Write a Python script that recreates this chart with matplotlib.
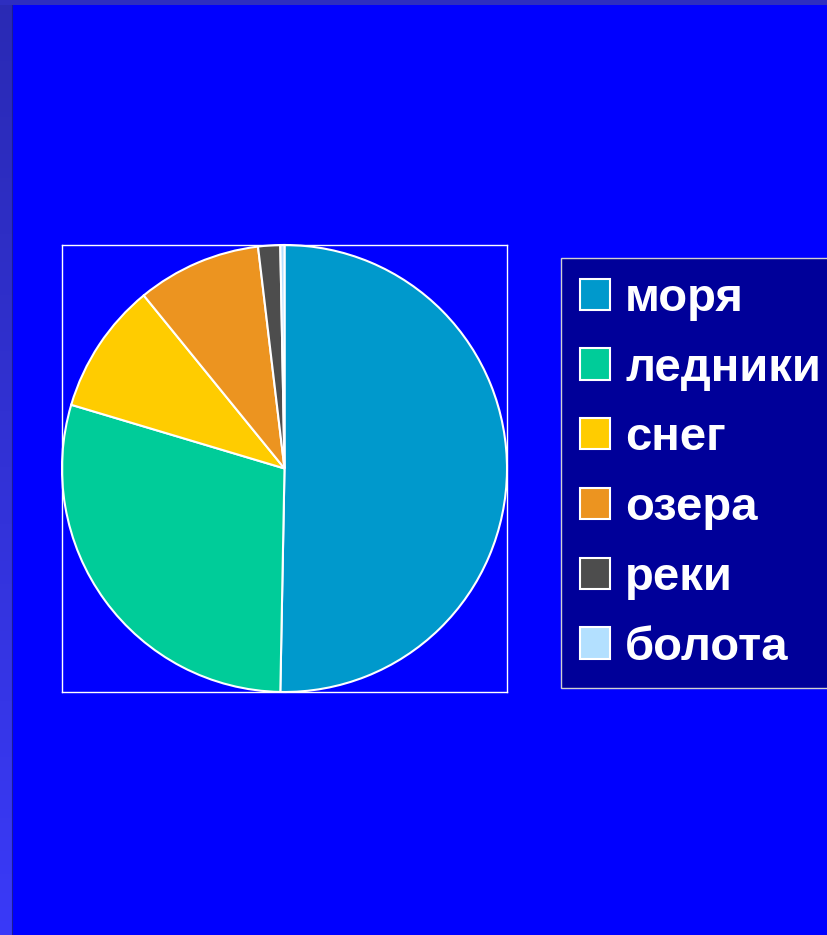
import matplotlib
matplotlib.use('Agg')
import matplotlib.pyplot as plt
import numpy as np

labels = ['моря', 'ледники', 'снег', 'озера', 'реки', 'болота']
values = [50.3, 29.3, 9.5, 9.0, 1.6, 0.3]
colors = ['#0099cc', '#00cc99', '#ffcc00', '#ec9420', '#4d4d4d', '#b3e0ff']

W, H = 828, 935
fig = plt.figure(figsize=(W / 100, H / 100), dpi=100, facecolor='#0000ff')

# slide frame: left strip with a vertical gradient, thin strip on top
strip = fig.add_axes([0, 0, 13 / W, 1])
grad = np.linspace(0, 1, 200).reshape(-1, 1)
top_c = np.array([0x2a, 0x2a, 0xb4]) / 255
bot_c = np.array([0x3a, 0x3a, 0xf8]) / 255
img = top_c[None, None, :] * (1 - grad[:, :, None]) + bot_c[None, None, :] * grad[:, :, None]
strip.imshow(img, aspect='auto', extent=[0, 1, 0, 1], origin='upper')
strip.axvline(0.97, color='#1a1a9a', lw=1.5)
strip.axis('off')
top = fig.add_axes([0, 1 - 5 / H, 1, 5 / H])
top.set_facecolor('#2e2ec0')
top.set_xticks([])
top.set_yticks([])
for s in top.spines.values():
    s.set_visible(False)

# pie
ax = fig.add_axes([62 / W, 1 - 692 / H, 445 / W, 447 / H])
ax.set_facecolor('#0000ff')
wedges, _ = ax.pie(values, colors=colors, startangle=90, counterclock=False,
                   radius=1.0, center=(0, 0),
                   wedgeprops=dict(edgecolor='white', linewidth=1.5))
ax.set_xlim(-1.0, 1.0)
ax.set_ylim(-1.0, 1.0)
ax.set_aspect('auto')
ax.set_frame_on(True)
ax.set_xticks([])
ax.set_yticks([])
for s in ax.spines.values():
    s.set_visible(True)
    s.set_color('white')
    s.set_linewidth(1)

leg = fig.legend(wedges, labels, loc='upper left',
                 bbox_to_anchor=(561 / W, 1 - 258 / H),
                 frameon=True, fancybox=False, facecolor='#000099',
                 edgecolor='#d0d0d0', framealpha=1,
                 prop={'family': 'Liberation Sans', 'weight': 'bold', 'size': 34},
                 handlelength=0.64, handleheight=0.64, handletextpad=0.32,
                 labelspacing=0.545, borderpad=0.4, borderaxespad=0)
leg.get_frame().set_linewidth(1)
for t in leg.get_texts():
    t.set_color('white')

fig.savefig('out.png', dpi=100, facecolor=fig.get_facecolor())
